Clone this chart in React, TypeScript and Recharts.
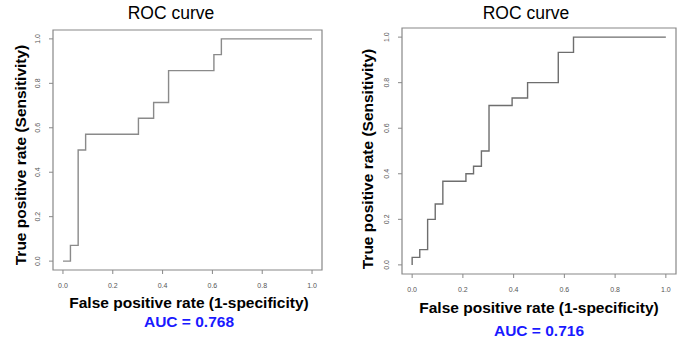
import React from 'react';
import { LineChart, Line, XAxis, YAxis, ReferenceArea } from 'recharts';

// ROC points (false positive rate, true positive rate), corners
const leftFpr = [0, 0.030, 0.061, 0.091, 0.303, 0.364, 0.424, 0.606, 0.636, 1];
const leftTpr = [0, 0.071, 0.5, 0.571, 0.643, 0.714, 0.857, 0.929, 1, 1];

const rightFpr = [0, 0, 0.030, 0.061, 0.091, 0.121, 0.212, 0.242, 0.273, 0.303, 0.394, 0.455, 0.576, 0.636, 1];
const rightTpr = [0, 0.033, 0.067, 0.2, 0.267, 0.367, 0.4, 0.433, 0.5, 0.7, 0.733, 0.8, 0.933, 1, 1];

const axisTicks = [0, 0.2, 0.4, 0.6, 0.8, 1];
const aucLabels = ['AUC = 0.768', 'AUC = 0.716'];

const FONT = '"Liberation Sans", Arial, sans-serif';

const toRows = (fpr: number[], tpr: number[]) => fpr.map((f, i) => ({ fpr: f, tpr: tpr[i] }));

const XTick = (p: any) => (
  <text x={p.x} y={p.y + 9} textAnchor="middle" dominantBaseline="central" fontSize={7} fill="#555" fontFamily={FONT}>
    {p.payload.value.toFixed(1)}
  </text>
);

const YTick = (p: any) => (
  <text
    x={p.x - 9}
    y={p.y}
    textAnchor="middle"
    dominantBaseline="central"
    fontSize={7}
    fill="#555"
    fontFamily={FONT}
    transform={`rotate(-90 ${p.x - 9} ${p.y})`}
  >
    {p.payload.value.toFixed(1)}
  </text>
);

interface PanelProps {
  rows: { fpr: number; tpr: number }[];
  left: number;
  lineColor: string;
  margin: { top: number; right: number; bottom: number; left: number };
}

const RocPanel: React.FC<PanelProps> = ({ rows, left, lineColor, margin }) => (
  <div style={{ position: 'absolute', left, top: 0 }}>
    <LineChart width={349} height={353} data={rows} margin={margin}>
      <XAxis
        dataKey="fpr"
        type="number"
        domain={[-0.04, 1.04]}
        ticks={axisTicks}
        allowDataOverflow
        height={20}
        axisLine={false}
        tickSize={4}
        tickLine={{ stroke: '#888' }}
        tick={<XTick />}
      />
      <YAxis
        type="number"
        domain={[-0.04, 1.04]}
        ticks={axisTicks}
        allowDataOverflow
        width={20}
        axisLine={false}
        tickSize={4}
        tickLine={{ stroke: '#888' }}
        tick={<YTick />}
      />
      <ReferenceArea x1={-0.04} x2={1.04} y1={-0.04} y2={1.04} fill="none" stroke="#888" strokeWidth={1.2} />
      <Line type="stepAfter" dataKey="tpr" stroke={lineColor} strokeWidth={1.4} dot={false} isAnimationActive={false} />
    </LineChart>
  </div>
);

const Txt: React.FC<{ x: number; y: number; size: number; bold?: boolean; color?: string; rotate?: boolean; children: React.ReactNode }> = (p) => (
  <div
    style={{
      position: 'absolute',
      left: p.x,
      top: p.y,
      transform: `translate(-50%, -50%)${p.rotate ? ' rotate(-90deg)' : ''}`,
      whiteSpace: 'nowrap',
      fontFamily: FONT,
      fontSize: p.size,
      fontWeight: p.bold ? 'bold' : 'normal',
      color: p.color ?? '#000',
      lineHeight: 1,
    }}
  >
    {p.children}
  </div>
);

export default function App() {
  return (
    <div style={{ position: 'absolute', left: 0, top: 0, width: 699, height: 353, background: '#fff', overflow: 'hidden' }}>
      <RocPanel rows={toRows(leftFpr, leftTpr)} left={0} lineColor="#8a8a8a" margin={{ top: 30, right: 27, bottom: 63, left: 33 }} />
      <RocPanel rows={toRows(rightFpr, rightTpr)} left={349} lineColor="#6e6e6e" margin={{ top: 28, right: 22, bottom: 59, left: 33 }} />

      <Txt x={171} y={14} size={17.5}>ROC curve</Txt>
      <Txt x={526} y={14} size={17.5}>ROC curve</Txt>

      <Txt x={21} y={155} size={15.5} bold rotate>True positive rate (Sensitivity)</Txt>
      <Txt x={368} y={159} size={15.5} bold rotate>True positive rate (Sensitivity)</Txt>

      <Txt x={189} y={303} size={15.5} bold>False positive rate (1-specificity)</Txt>
      <Txt x={539} y={308} size={15.5} bold>False positive rate (1-specificity)</Txt>

      <Txt x={189} y={322} size={15.5} bold color="#1a1aff">{aucLabels[0]}</Txt>
      <Txt x={539} y={331} size={15.5} bold color="#1a1aff">{aucLabels[1]}</Txt>
    </div>
  );
}
